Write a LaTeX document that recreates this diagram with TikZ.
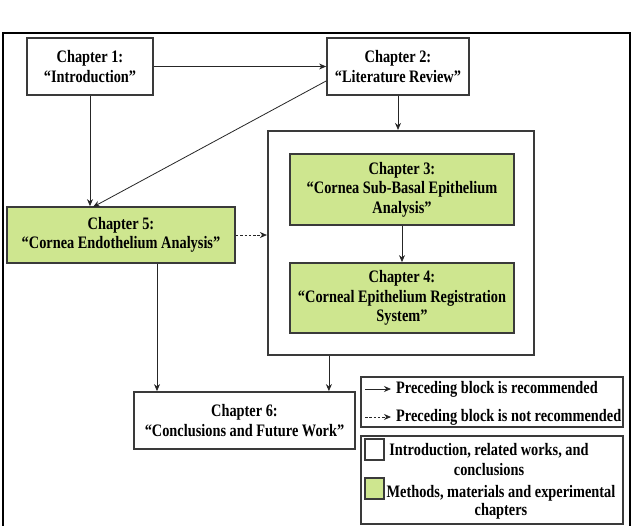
\documentclass[tikz,border=0pt]{standalone}
\usepackage{fontspec}
\setmainfont{Liberation Serif}[FakeStretch=0.82]
\usetikzlibrary{arrows.meta,calc}
\definecolor{chgreen}{RGB}{206,230,143}
\definecolor{bordergray}{RGB}{58,58,58}
\tikzset{
  chbox/.style={draw=bordergray, line width=1.8pt, rectangle, align=center, inner sep=2pt,
    font=\fontsize{17.5}{19.5}\selectfont\bfseries},
  greenbox/.style={chbox, fill=chgreen},
  framebox/.style={draw=bordergray, line width=2.2pt, rectangle},
  conn/.style={draw=black!85, line width=0.8pt, -{Stealth[length=7pt,width=6pt]}},
  dconn/.style={conn, dash pattern=on 2.5pt off 1.8pt},
  legtext/.style={font=\fontsize{17.5}{19.5}\selectfont\bfseries, inner sep=0pt, align=center},
}
\begin{document}
\begin{tikzpicture}[x=1pt,y=-1pt]
\useasboundingbox (0,0) rectangle (636,525);
\fill[white] (0,0) rectangle (636,525);
% outer frame
\draw[line width=2.6pt, black] (3,33) rectangle (630,540);

% chapter boxes
\node[chbox, minimum width=126pt, minimum height=57pt] (ch1) at (90,66.5) {Chapter 1:\\“Introduction”};
\node[chbox, minimum width=142pt, minimum height=57pt] (ch2) at (398,66.5) {Chapter 2:\\“Literature Review”};
\node[framebox, minimum width=266pt, minimum height=224pt] (grp) at (401,243) {};
\node[greenbox, minimum width=224pt, minimum height=71pt] (ch3) at (402,189.5) {Chapter 3:\\“Cornea Sub-Basal Epithelium\\Analysis”};
\node[greenbox, minimum width=224pt, minimum height=70pt] (ch4) at (402,298) {Chapter 4:\\“Corneal Epithelium Registration\\System”};
\node[greenbox, minimum width=228pt, minimum height=56pt] (ch5) at (121,235) {Chapter 5:\\“Cornea Endothelium Analysis”};
\node[chbox, minimum width=221pt, minimum height=57pt] (ch6) at (244.5,420.5) {Chapter 6:\\“Conclusions and Future Work”};

% connectors
\draw[conn] (ch1.east) -- (ch2.west);
\draw[conn] (ch1.south) -- (ch1.south |- ch5.north);
\coordinate (d5) at (93,207);
\draw[conn] ([yshift=-14.5pt]ch2.west) -- (d5);
\draw[conn] (ch2.south) -- (ch2.south |- grp.north);
\draw[dconn] (ch5.east) -- (ch5.east -| grp.west);
\draw[conn] (ch3.south) -- (ch4.north);
\draw[conn] ([xshift=36pt]ch5.south) -- ([xshift=36pt]ch5.south |- ch6.north);
\draw[conn] ([xshift=62pt]grp.south west) -- ([xshift=62pt]grp.south west |- ch6.north);

% legend 1
\node[framebox, line width=1.8pt, minimum width=262pt, minimum height=50pt] (leg1) at (492,402) {};
\coordinate (la1) at (365,389);
\coordinate (lb1) at (391,389);
\coordinate (la2) at (365,417);
\coordinate (lb2) at (391,417);
\draw[conn] (la1) -- (lb1);
\draw[dconn] (la2) -- (lb2);
\node[legtext, anchor=west] (lt1) at (396,389) {Preceding block is recommended};
\node[legtext, anchor=west] (lt2) at (396,417) {Preceding block is not recommended};

% legend 2
\node[framebox, line width=1.8pt, minimum width=262pt, minimum height=88pt] (leg2) at (492,480) {};
\node[draw=bordergray, line width=1.6pt, fill=white, minimum width=19pt, minimum height=21pt, inner sep=0pt] (sw1) at (374.5,449.5) {};
\node[draw=bordergray, line width=1.6pt, fill=chgreen, minimum width=19pt, minimum height=21pt, inner sep=0pt] (sw2) at (374.5,488.5) {};
\node[legtext] (lt3) at (489,459.5) {Introduction, related works, and\\conclusions};
\node[legtext, font=\fontsize{17.5}{18.5}\selectfont\bfseries] (lt4) at (501,502.5) {Methods, materials and experimental\\chapters};
\end{tikzpicture}
\end{document}
